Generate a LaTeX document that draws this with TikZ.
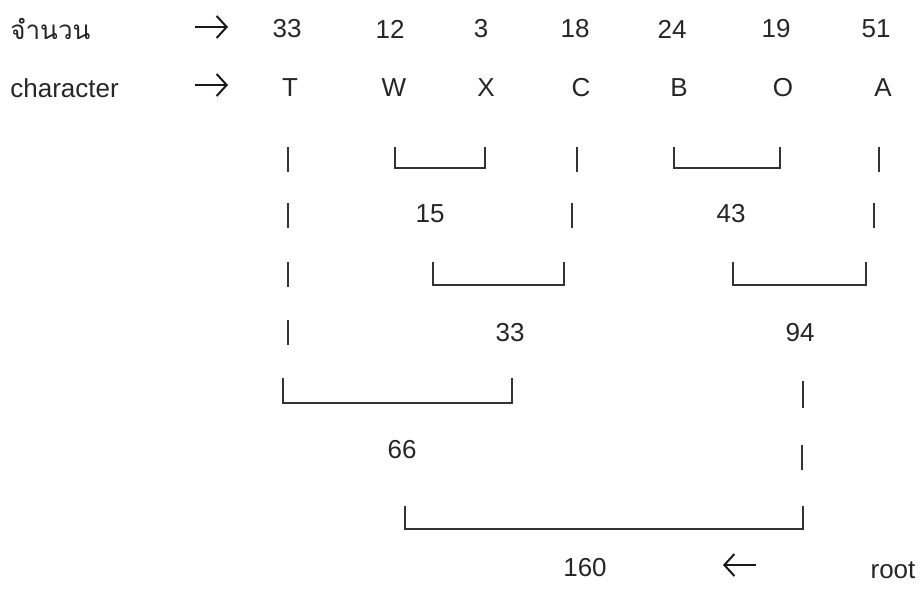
\documentclass[tikz,border=0pt]{standalone}
\usepackage{fontspec}
\setmainfont{Liberation Sans}
\newfontfamily\thaifont[Script=Thai]{Loma}
\usetikzlibrary{arrows.meta}

\begin{document}
\begin{tikzpicture}[x=0.5pt, y=-0.5pt,
        lbl/.style={text=black!85, inner sep=0pt, font=\fontsize{13}{15}\selectfont},
        bar/.style={draw=black!80, line width=0.8pt},
        pointer/.style={draw=black!90, line width=1pt, -{Straight Barb[length=5pt, width=11pt]}}]

    % Frame
    \useasboundingbox (0,0) rectangle (924,588);

    % Row labels
    \node[lbl, anchor=west] (count) at (10,29) {\thaifont จำนวน};
    \node[lbl, anchor=west] (chr) at (10,88) {character};

    % Arrows to the rows
    \coordinate (cnts) at (195,27);
    \coordinate (cnte) at (228,27);
    \coordinate (chrs) at (195,85);
    \coordinate (chre) at (228,85);
    \draw[pointer] (cnts) -- (cnte);
    \draw[pointer] (chrs) -- (chre);

    % Counts and characters
    \foreach \nm/\x/\v in {nT/287/33, nW/390/12, nX/481/3, nC/575/18, nB/672/24, nO/776/19, nA/876/51}
        \node[lbl] (\nm) at (\x,29) {\v};
    \foreach \nm/\x in {T/290, W/394, X/486, C/581, B/679, O/783, A/883}
        \node[lbl] (c\nm) at (\x,88) {\nm};

    % Level 1: W+X, B+O
    \draw[bar] (288,147) -- (288,172);
    \draw[bar] (395,147) -- (395,168) -- (485,168) -- (485,147);
    \draw[bar] (577,147) -- (577,172);
    \draw[bar] (674,147) -- (674,168) -- (780,168) -- (780,147);
    \draw[bar] (879,147) -- (879,172);

    \draw[bar] (288,203) -- (288,228);
    \node[lbl] (s15) at (430,214) {15};
    \draw[bar] (572,203) -- (572,228);
    \node[lbl] (s43) at (731,214) {43};
    \draw[bar] (874,203) -- (874,228);

    % Level 2: 15+C, 43+A
    \draw[bar] (288,262) -- (288,287);
    \draw[bar] (433,262) -- (433,285) -- (564,285) -- (564,262);
    \draw[bar] (733,262) -- (733,285) -- (866,285) -- (866,262);

    \draw[bar] (288,320) -- (288,345);
    \node[lbl] (s33) at (510,333) {33};
    \node[lbl] (s94) at (800,333) {94};

    % Level 3: T+33
    \draw[bar] (283,378) -- (283,403) -- (512,403) -- (512,378);
    \draw[bar] (803,381) -- (803,408);
    \node[lbl] (s66) at (402,450) {66};
    \draw[bar] (802,445) -- (802,470);

    % Root: 66+94
    \draw[bar] (405,506) -- (405,529) -- (803,529) -- (803,506);
    \node[lbl] (s160) at (585,568) {160};
    \coordinate (rts) at (756,565);
    \coordinate (rte) at (723,565);
    \draw[pointer] (rts) -- (rte);
    \node[lbl] (root) at (893,570) {root};

\end{tikzpicture}
\end{document}
